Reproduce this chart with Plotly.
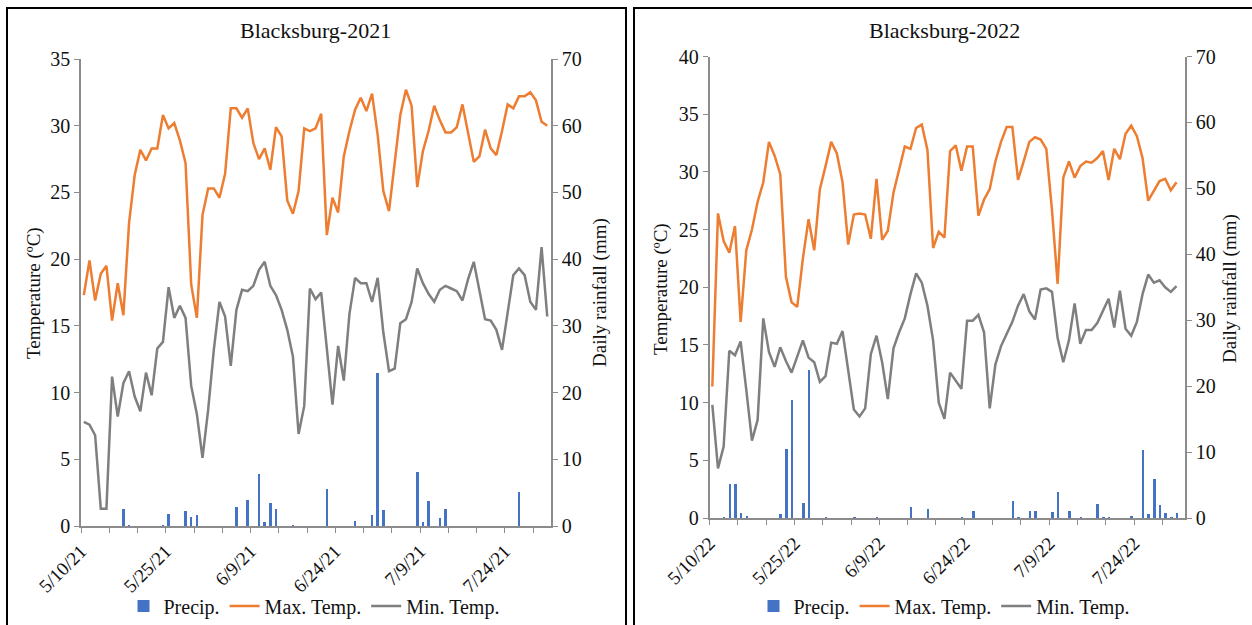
import plotly.graph_objects as go
import pandas as pd

# ---------------- data ----------------
start_2021 = "2021-05-10"
start_2022 = "2022-05-10"

max_2021 = [17.3, 19.9, 16.9, 18.9, 19.5, 15.4, 18.2, 15.8, 22.7, 26.3,
            28.2, 27.4, 28.3, 28.3, 30.8, 29.8, 30.2, 28.9, 27.2, 18.1,
            15.6, 23.3, 25.3, 25.3, 24.6, 26.4, 31.3, 31.3, 30.6, 31.3,
            28.7, 27.5, 28.3, 26.7, 29.9, 29.2, 24.4, 23.4, 25.1, 29.8,
            29.6, 29.8, 30.9, 21.8, 24.6, 23.5, 27.7, 29.6, 31.2, 32.1,
            31.1, 32.4, 29.3, 25.1, 23.6, 27.2, 30.8, 32.7, 31.5, 25.4,
            28.1, 29.6, 31.5, 30.4, 29.5, 29.5, 29.9, 31.6, 29.5, 27.3,
            27.7, 29.7, 28.3, 27.8, 29.6, 31.6, 31.3, 32.2, 32.2, 32.5,
            31.9, 30.3, 30.0]
min_2021 = [7.8, 7.6, 6.8, 1.3, 1.3, 11.2, 8.2, 10.7, 11.6, 9.7,
            8.6, 11.5, 9.8, 13.3, 13.8, 17.9, 15.6, 16.5, 15.6, 10.5,
            8.4, 5.1, 8.7, 13.2, 16.8, 15.7, 12.0, 16.2, 17.7, 17.6,
            18.0, 19.2, 19.8, 18.0, 17.3, 16.2, 14.7, 12.7, 6.9, 9.0,
            17.8, 17.0, 17.5, 13.1, 9.1, 13.5, 10.9, 15.9, 18.6, 18.2,
            18.2, 16.8, 18.6, 14.5, 11.6, 11.8, 15.2, 15.5, 16.8, 19.3,
            18.2, 17.4, 16.8, 17.7, 18.0, 17.8, 17.6, 16.9, 18.5, 19.8,
            17.6, 15.5, 15.4, 14.7, 13.2, 16.2, 18.8, 19.3, 18.8, 16.8,
            16.2, 20.9, 15.7]
precip_2021 = [0, 0, 0, 0, 0, 0, 0, 2.5, 0.1, 0,
               0, 0, 0, 0, 0.1, 1.8, 0, 0, 2.3, 1.4,
               1.7, 0, 0, 0, 0, 0, 0, 2.9, 0, 3.9,
               0, 7.8, 0.6, 3.5, 2.5, 0, 0, 0.1, 0, 0,
               0, 0, 0, 5.5, 0, 0, 0, 0, 0.7, 0,
               0, 1.6, 22.9, 2.4, 0, 0, 0, 0, 0, 8.1,
               0.6, 3.8, 0, 1.2, 2.6, 0, 0, 0, 0, 0,
               0, 0, 0, 0, 0, 0, 0, 5.1, 0, 0,
               0, 0, 0]

max_2022 = [11.4, 26.4, 24.0, 23.0, 25.3, 17.0, 23.2, 25.0, 27.4, 29.1,
            32.6, 31.4, 29.8, 20.9, 18.7, 18.3, 22.5, 25.9, 23.2, 28.5,
            30.5, 32.6, 31.6, 29.1, 23.7, 26.3, 26.4, 26.3, 24.2, 29.4,
            24.1, 24.9, 28.2, 30.2, 32.2, 32.0, 33.8, 34.1, 31.9, 23.4,
            24.8, 24.3, 31.8, 32.3, 30.1, 32.2, 32.2, 26.2, 27.6, 28.5,
            30.9, 32.6, 33.9, 33.9, 29.3, 30.9, 32.6, 33.0, 32.8, 32.0,
            26.7, 20.3, 29.5, 30.9, 29.5, 30.5, 30.9, 30.8, 31.2, 31.8,
            29.3, 32.0, 31.1, 33.3, 34.0, 33.1, 31.2, 27.5, 28.3, 29.2,
            29.4, 28.4, 29.1]
min_2022 = [9.8, 4.3, 6.2, 14.5, 14.1, 15.3, 11.1, 6.7, 8.5, 17.3,
            14.4, 13.1, 14.8, 13.6, 12.6, 14.1, 15.4, 13.9, 13.5, 11.8,
            12.3, 15.2, 15.1, 16.2, 12.9, 9.4, 8.8, 9.5, 14.2, 15.8,
            13.5, 10.3, 14.7, 16.1, 17.3, 19.4, 21.2, 20.4, 18.4, 15.4,
            10.0, 8.6, 12.6, 11.9, 11.2, 17.1, 17.1, 17.6, 16.1, 9.5,
            13.3, 14.9, 16.0, 17.0, 18.4, 19.4, 17.9, 17.2, 19.8, 19.9,
            19.6, 15.6, 13.5, 15.4, 18.6, 15.1, 16.3, 16.3, 16.9, 18.0,
            19.0, 16.5, 19.7, 16.4, 15.8, 17.0, 19.4, 21.1, 20.4, 20.6,
            20.0, 19.6, 20.1]
precip_2022 = [0, 0, 0.1, 5.2, 5.2, 0.9, 0.4, 0, 0, 0,
               0, 0, 0.7, 10.5, 18.0, 0, 2.4, 22.6, 0, 0,
               0.1, 0, 0, 0, 0, 0.1, 0, 0, 0, 0.2,
               0, 0, 0, 0, 0, 1.7, 0, 0, 1.5, 0,
               0, 0, 0, 0, 0.3, 0, 1.1, 0, 0, 0,
               0, 0, 0, 2.6, 0.1, 0, 1.1, 1.1, 0, 0,
               1.0, 4.0, 0, 1.2, 0, 0.1, 0, 0, 2.2, 0.1,
               0.1, 0, 0, 0, 0.4, 0, 10.4, 0.7, 6.0, 2.0,
               0.8, 0.3, 0.8]

series_names = ["Precip.", "Max. Temp.", "Min. Temp."]
titles = ["Blacksburg-2021", "Blacksburg-2022"]

# ---------------- style ----------------
W, H = 1252, 625
FONT = "Liberation Serif, Times New Roman, serif"
ORANGE = "#ED7D31"
GRAY = "#7F7F7F"
BLUE = "#4472C4"
AXIS = "#8C8C8C"
DAY = 86400000


def px(x):
    return x / W


def py(y):
    return 1 - y / H


def day_dates(start, n):
    # Excel date axis "between tick marks": each day drawn at the middle of its slot
    return pd.date_range(start, periods=n, freq="D") + pd.Timedelta(hours=12)


fig = go.Figure()

panels = [
    dict(start=start_2021, mx=max_2021, mn=min_2021, pr=precip_2021,
         xa="x", ya_rain="y", ya_temp="y2", legend="legend",
         end="2021-08-01 04:00", tmax=35),
    dict(start=start_2022, mx=max_2022, mn=min_2022, pr=precip_2022,
         xa="x2", ya_rain="y3", ya_temp="y4", legend="legend2",
         end="2022-08-02", tmax=40),
]

for p in panels:
    d = day_dates(p["start"], len(p["mx"]))
    fig.add_trace(go.Bar(x=d, y=p["pr"], name=series_names[0], marker_color=BLUE,
                         marker_line_width=0, width=0.45 * DAY,
                         xaxis=p["xa"], yaxis=p["ya_rain"], legend=p["legend"]))
    fig.add_trace(go.Scatter(x=d, y=p["mx"], name=series_names[1], mode="lines",
                             line=dict(color=ORANGE, width=2.5),
                             xaxis=p["xa"], yaxis=p["ya_temp"], legend=p["legend"]))
    fig.add_trace(go.Scatter(x=d, y=p["mn"], name=series_names[2], mode="lines",
                             line=dict(color=GRAY, width=2.5),
                             xaxis=p["xa"], yaxis=p["ya_temp"], legend=p["legend"]))

tickfont = dict(family=FONT, size=20, color="#111")
xtickfont = dict(family=FONT, size=19, color="#111")


def xaxis(domain, anchor, start, end):
    return dict(domain=domain, anchor=anchor, type="date", range=[start, end],
                tick0=start, dtick=15 * DAY, tickformat="%-m/%-d/%y", tickangle=-45,
                ticks="outside", ticklen=5, tickcolor=AXIS, tickwidth=1.2,
                minor=dict(tick0=start, dtick=5 * DAY, ticks="outside", ticklen=5,
                           tickcolor=AXIS, tickwidth=1.2, showgrid=False),
                showline=True, linecolor=AXIS, linewidth=1.5, showgrid=False,
                zeroline=False, tickfont=xtickfont, automargin=False)


def rain_axis(domain, anchor):
    return dict(domain=domain, anchor=anchor, side="right", range=[0, 70], dtick=10,
                ticks="outside", ticklen=5, tickcolor=AXIS, tickwidth=1.2,
                showline=True, linecolor=AXIS, linewidth=1.5, showgrid=False,
                zeroline=False, tickfont=tickfont, automargin=False)


def temp_axis(over, anchor, tmax):
    return dict(overlaying=over, anchor=anchor, side="left", range=[0, tmax], dtick=5,
                ticks="outside", ticklen=5, tickcolor=AXIS, tickwidth=1.2,
                showline=True, linecolor=AXIS, linewidth=1.5, showgrid=False,
                zeroline=False, tickfont=tickfont, automargin=False)


legend_common = dict(orientation="h", xanchor="center", yanchor="middle",
                     font=dict(family=FONT, size=20, color="#111"),
                     bgcolor="rgba(0,0,0,0)", itemwidth=30, tracegroupgap=0)

fig.update_layout(
    template="none",
    width=W, height=H,
    margin=dict(l=0, r=0, t=0, b=0, pad=0, autoexpand=False),
    paper_bgcolor="white", plot_bgcolor="white",
    font=dict(family=FONT, color="#111"),
    bargap=0,
    xaxis=xaxis([px(81), px(551)], "y", start_2021, panels[0]["end"]),
    yaxis=rain_axis([py(526), py(59)], "x"),
    yaxis2=temp_axis("y", "x", 35),
    xaxis2=xaxis([px(709.5), px(1185)], "y3", start_2022, panels[1]["end"]),
    yaxis3=rain_axis([py(518), py(56.5)], "x2"),
    yaxis4=temp_axis("y3", "x2", 40),
    legend=dict(x=px(314), y=py(606), **legend_common),
    legend2=dict(x=px(944), y=py(606), **legend_common),
    showlegend=True,
)

annotations = [
    dict(text=titles[0], x=px(315), y=py(30)),
    dict(text=titles[1], x=px(944), y=py(30)),
]
fig.update_layout(annotations=[
    dict(text=a["text"], x=a["x"], y=a["y"], xref="paper", yref="paper",
         showarrow=False, xanchor="center", yanchor="middle",
         font=dict(family=FONT, size=22, color="#111")) for a in annotations
] + [
    dict(text=t, x=px(x), y=py(y), xref="paper", yref="paper", showarrow=False,
         textangle=-90, xanchor="center", yanchor="middle",
         font=dict(family=FONT, size=19, color="#111"))
    for t, x, y in [("Temperature (ºC)", 34, 293), ("Daily rainfall (mm)", 600, 293),
                    ("Temperature (ºC)", 661, 289), ("Daily rainfall (mm)", 1230, 289)]
])

fig.update_layout(shapes=[
    dict(type="rect", xref="paper", yref="paper", x0=px(7), x1=px(626),
         y0=-0.1, y1=py(8), line=dict(color="black", width=2)),
    dict(type="rect", xref="paper", yref="paper", x0=px(634), x1=1.1,
         y0=-0.1, y1=py(8), line=dict(color="black", width=2)),
])

fig.write_html("out.html")
